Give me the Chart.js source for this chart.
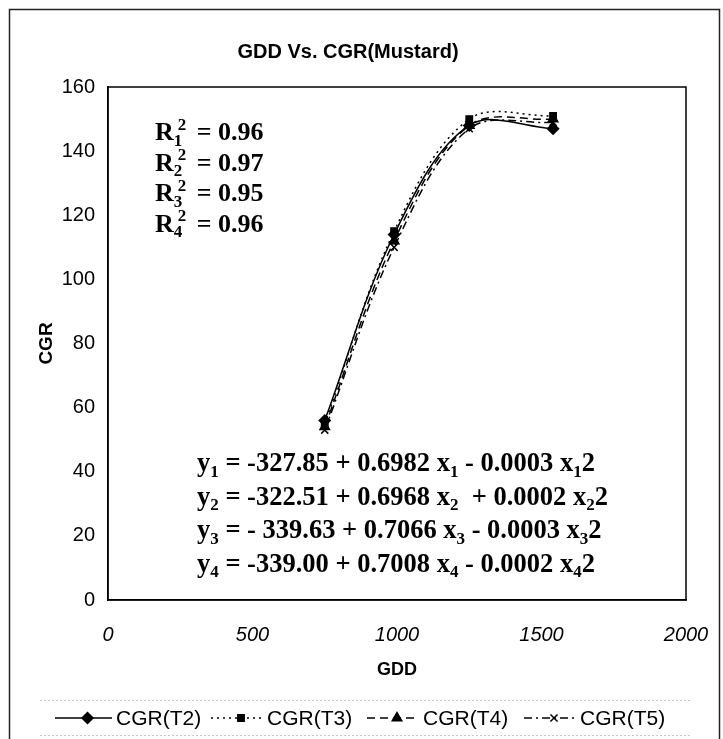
<!DOCTYPE html>
<html>
<head>
<meta charset="utf-8">
<script src="https://cdn.jsdelivr.net/npm/chart.js@4.4.1/dist/chart.umd.min.js"></script>
<style>
  html, body { margin: 0; padding: 0; background: #fff; }
  #wrap { width: 723px; height: 739px; }
</style>
</head>
<body>
<div id="wrap"><canvas id="chart" width="723" height="739"></canvas></div>
<script>
// GDD values at which CGR was measured
const gdd = [750, 990, 1250, 1540];

const cgrT2 = [56, 114, 148, 147];
const cgrT3 = [55, 115, 150, 151];
const cgrT4 = [54, 112, 148, 150];
const cgrT5 = [53, 110, 147, 149];

const seriesNames = ['CGR(T2)', 'CGR(T3)', 'CGR(T4)', 'CGR(T5)'];

const xMin = 0, xMax = 2000, xStep = 500;
const yMin = 0, yMax = 160, yStep = 20;

// R squared and fitted equations ( _ = subscript, ^ = superscript )
const r2Lines = ['R_1^2 = 0.96', 'R_2^2 = 0.97', 'R_3^2 = 0.95', 'R_4^2 = 0.96'];
const eqLines = [
  'y_1 = -327.85 + 0.6982 x_1 - 0.0003 x_12',
  'y_2 = -322.51 + 0.6968 x_2  + 0.0002 x_22',
  'y_3 = - 339.63 + 0.7066 x_3 - 0.0003 x_32',
  'y_4 = -339.00 + 0.7008 x_4 - 0.0002 x_42'
];

const SANS = "'Liberation Sans', Arial, sans-serif";
const SERIF = "'Liberation Serif', 'Times New Roman', serif";

const styles = [
  { pointStyle: 'rectRot', radius: 5.5, dash: [] },
  { pointStyle: 'rect', radius: 4.5, dash: [2, 4] },
  { pointStyle: 'triangle', radius: 5.5, dash: [8, 5] },
  { pointStyle: 'crossRot', radius: 5, dash: [8, 4, 2, 4] }
];

function makeSet(name, values, st) {
  return {
    label: name,
    data: gdd.map((x, i) => ({ x: x, y: values[i] })),
    borderColor: '#000',
    backgroundColor: '#000',
    borderWidth: 1.5,
    borderDash: st.dash,
    pointStyle: st.pointStyle,
    pointRadius: st.radius,
    pointBorderWidth: 1.5,
    showLine: true,
    tension: 0.35
  };
}

// draws a string with _x subscripts and ^x superscripts
function richText(ctx, str, x, y, size) {
  const big = 'bold ' + size + 'px ' + SERIF;
  const small = 'bold ' + Math.round(size * 0.66) + 'px ' + SERIF;
  let cx = x, lastSubX = null;
  let i = 0;
  ctx.textBaseline = 'alphabetic';
  ctx.textAlign = 'left';
  while (i < str.length) {
    const c = str[i];
    if (c === '_' || c === '^') {
      const ch = str[i + 1];
      ctx.font = small;
      const w = ctx.measureText(ch).width;
      if (c === '_') {
        ctx.fillText(ch, cx, y + size * 0.22);
        lastSubX = cx;
        cx += w;
      } else {
        const sx = lastSubX !== null ? lastSubX + 4 : cx;
        ctx.fillText(ch, sx, y - size * 0.4);
        cx = Math.max(cx, sx + w) + 4;
      }
      i += 2;
      continue;
    }
    let j = i;
    while (j < str.length && str[j] !== '_' && str[j] !== '^') j++;
    const chunk = str.slice(i, j);
    ctx.font = big;
    ctx.fillText(chunk, cx, y);
    cx += ctx.measureText(chunk).width;
    lastSubX = null;
    i = j;
  }
}

const decorPlugin = {
  id: 'decor',
  beforeDraw(chart) {
    const ctx = chart.ctx;
    ctx.save();
    ctx.fillStyle = '#fff';
    ctx.fillRect(0, 0, chart.width, chart.height);
    ctx.strokeStyle = '#222';
    ctx.lineWidth = 1.5;
    ctx.beginPath();
    ctx.moveTo(9.5, 739); ctx.lineTo(9.5, 9.5); ctx.lineTo(719.5, 9.5); ctx.lineTo(719.5, 739);
    ctx.stroke();
    ctx.restore();
  },
  afterDatasetsDraw(chart) {
    const ctx = chart.ctx;
    const a = chart.chartArea;
    ctx.save();
    ctx.strokeStyle = '#000';
    ctx.lineWidth = 1.5;
    ctx.strokeRect(a.left, a.top, a.right - a.left, a.bottom - a.top);

    ctx.fillStyle = '#000';
    r2Lines.forEach((s, k) => richText(ctx, s, a.left + 47, a.top + 53 + k * 30.5, 26));
    eqLines.forEach((s, k) => richText(ctx, s, a.left + 89, a.top + 384 + k * 33.5, 26.5));

    // legend
    const ly = 718;
    const lx = [[55, 112], [211, 263], [367, 419], [524, 576]];
    ctx.font = '21px ' + SANS;
    ctx.textBaseline = 'middle';
    chart.data.datasets.forEach((ds, k) => {
      const [x0, x1] = lx[k];
      ctx.setLineDash(ds.borderDash);
      ctx.lineWidth = 1.5;
      ctx.beginPath();
      ctx.moveTo(x0, ly); ctx.lineTo(x1, ly);
      ctx.stroke();
      ctx.setLineDash([]);
      Chart.helpers.drawPoint(ctx, { pointStyle: ds.pointStyle, radius: ds.pointRadius, rotation: 0, borderWidth: 1.5 }, (x0 + x1) / 2 + 4, ly);
      ctx.fillText(ds.label, x1 + 4, ly + 1);
    });

    ctx.strokeStyle = '#c8c8c8';
    ctx.lineWidth = 1;
    ctx.setLineDash([2, 2]);
    ctx.beginPath();
    ctx.moveTo(40, 700.5); ctx.lineTo(692, 700.5);
    ctx.moveTo(40, 735.5); ctx.lineTo(692, 735.5);
    ctx.stroke();
    ctx.restore();
  }
};

const ctx = document.getElementById('chart').getContext('2d');
const chart = new Chart(ctx, {
  type: 'scatter',
  data: {
    datasets: [
      makeSet(seriesNames[0], cgrT2, styles[0]),
      makeSet(seriesNames[1], cgrT3, styles[1]),
      makeSet(seriesNames[2], cgrT4, styles[2]),
      makeSet(seriesNames[3], cgrT5, styles[3])
    ]
  },
  options: {
    responsive: false,
    animation: false,
    devicePixelRatio: 1,
    layout: { padding: { left: 10, right: 37, top: 0, bottom: 58 } },
    plugins: {
      legend: { display: false },
      tooltip: { enabled: false },
      title: {
        display: true,
        text: 'GDD Vs. CGR(Mustard)',
        color: '#000',
        font: { family: SANS, size: 20, weight: 'bold' },
        padding: { top: 40, bottom: 23 }
      }
    },
    scales: {
      x: {
        type: 'linear',
        min: xMin, max: xMax,
        grid: { display: false, drawTicks: false },
        border: { display: true, color: '#000', width: 1.5 },
        ticks: {
          stepSize: xStep, color: '#000', padding: 23,
          font: { family: SANS, size: 20, style: 'italic' },
          callback: v => String(v)
        },
        title: { display: true, text: 'GDD', color: '#000', padding: { top: 0, bottom: 0 }, font: { family: SANS, size: 18, weight: 'bold' } },
        afterFit(scale) { scale.height = 81; scale.paddingLeft = 0; scale.paddingRight = 0; }
      },
      y: {
        min: yMin, max: yMax,
        grid: { display: false, drawTicks: false },
        border: { display: true, color: '#000', width: 1.5 },
        ticks: { stepSize: yStep, color: '#000', padding: 13, font: { family: SANS, size: 20 } },
        title: { display: true, text: 'CGR', color: '#000', padding: { top: 25, bottom: 0 }, font: { family: SANS, size: 19, weight: 'bold' } },
        afterFit(scale) { scale.width = 98; scale.paddingTop = 0; scale.paddingBottom = 0; }
      }
    }
  },
  plugins: [decorPlugin]
});
</script>
</body>
</html>
